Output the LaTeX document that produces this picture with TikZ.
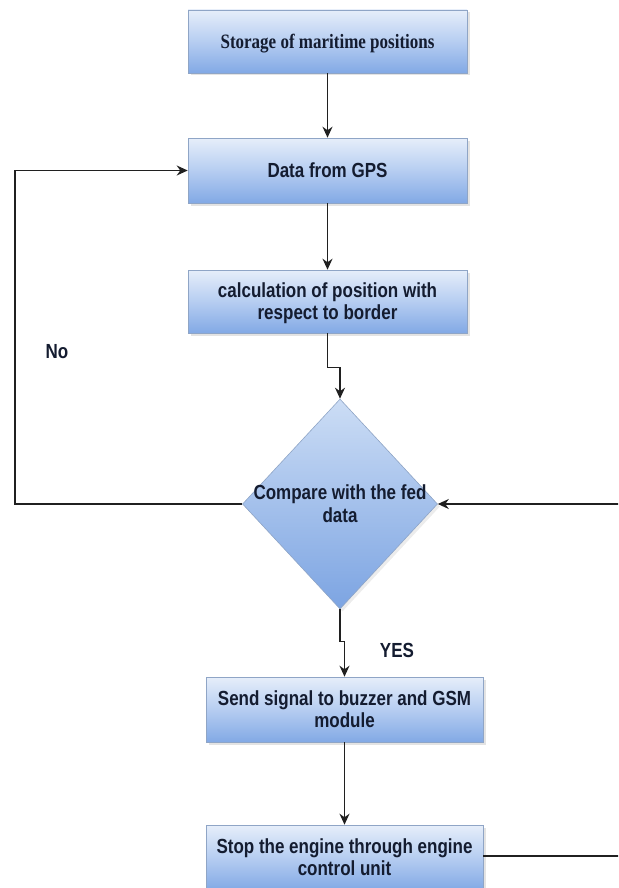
\documentclass[tikz,border=0pt]{standalone}
\usepackage{fontspec}
\usepackage{graphicx}
\setmainfont{Liberation Sans}
\newfontfamily\serifbold{Liberation Serif}
\usetikzlibrary{shapes.geometric,arrows.meta,shadows}

\definecolor{boxtop}{HTML}{E6EEFA}
\definecolor{boxmid}{HTML}{B6CDF1}
\definecolor{boxbot}{HTML}{82A9E5}
\definecolor{decitop}{HTML}{CCDDF5}
\definecolor{decibot}{HTML}{7CA4E2}
\definecolor{edge}{HTML}{8FA5C6}
\definecolor{ink}{HTML}{141C30}
\definecolor{wire}{HTML}{202020}

% slightly tall lettering, lines centred, drawn a little low inside an unchanged box
\newcommand{\talltext}[1]{\raisebox{-2.5pt}[\height][\depth]{\scalebox{1}[1.2]{\begin{tabular}{@{}c@{}}#1\end{tabular}}}}

\tikzset{
  procbox/.style={rectangle, draw=edge, line width=0.6pt,
    top color=boxtop, bottom color=boxbot, middle color=boxmid,
    drop shadow={shadow xshift=2.5pt, shadow yshift=-2.5pt, fill=black!22},
    align=center, text=ink, inner sep=0pt,
    font=\fontsize{17}{19}\selectfont\bfseries},
  decision/.style={diamond, draw=edge, line width=0.6pt,
    top color=decitop, bottom color=decibot,
    drop shadow={shadow xshift=2.5pt, shadow yshift=-2.5pt, fill=black!15},
    inner sep=0pt, minimum width=195pt, minimum height=210pt},
  flow/.style={draw=wire, line width=1.4pt, -{Stealth[length=11pt,width=10pt]}},
  plain/.style={draw=wire, line width=1.4pt},
  tag/.style={text=ink, font=\fontsize{17}{20}\selectfont\bfseries}
}

\begin{document}
\begin{tikzpicture}[x=1pt,y=-1pt]
  \useasboundingbox (0,0) rectangle (618,888);
  \clip (0,0) rectangle (618,888);

  % process boxes
  \node[procbox, minimum width=279pt, minimum height=63pt] (store) at (327.5,41.5)
    {\serifbold\bfseries\talltext{Storage of maritime positions}};
  \node[procbox, minimum width=279pt, minimum height=65pt] (gps) at (327.5,170.5)
    {\talltext{Data from GPS}};
  \node[procbox, minimum width=279pt, minimum height=63pt] (calc) at (327.5,301.5)
    {\talltext{calculation of position with\\respect to border}};

  % decision
  \node[decision] (cmp) at (340,504) {};
  \node[text=ink, align=center, font=\fontsize{17}{19}\selectfont\bfseries] (cmptext) at (340,504)
    {\talltext{Compare with the fed\\data}};

  \node[procbox, minimum width=277pt, minimum height=65pt] (alert) at (344.5,709.5)
    {\talltext{Send signal to buzzer and GSM\\module}};
  \node[procbox, minimum width=277pt, minimum height=65pt] (stop) at (344.5,857.5)
    {\talltext{Stop the engine through engine\\control unit}};

  % labels
  \node[tag] (nolabel) at (57,351) {\talltext{No}};
  \node[tag] (yeslabel) at (397,650) {\talltext{YES}};

  % routing points
  \coordinate (lrail) at (15,504);
  \coordinate (rtop) at (640,504);
  \coordinate (rbot) at (640,856);

  % connectors
  \draw[flow] (store.south) -- (gps.north);
  \draw[flow] (gps.south) -- (calc.north);
  \draw[flow] (calc.south) -- ++(0,34) -| (cmp.north);
  \draw[flow] (cmp.west) -- (lrail) |- (gps.west);
  \draw[flow] (cmp.south) -- ++(0,32) -| (alert.north);
  \draw[flow] (alert.south) -- (stop.north);
  \draw[plain] (stop.east |- rbot) -- (rbot) -- (rtop);
  \draw[flow] (rtop) -- (cmp.east);
\end{tikzpicture}
\end{document}
